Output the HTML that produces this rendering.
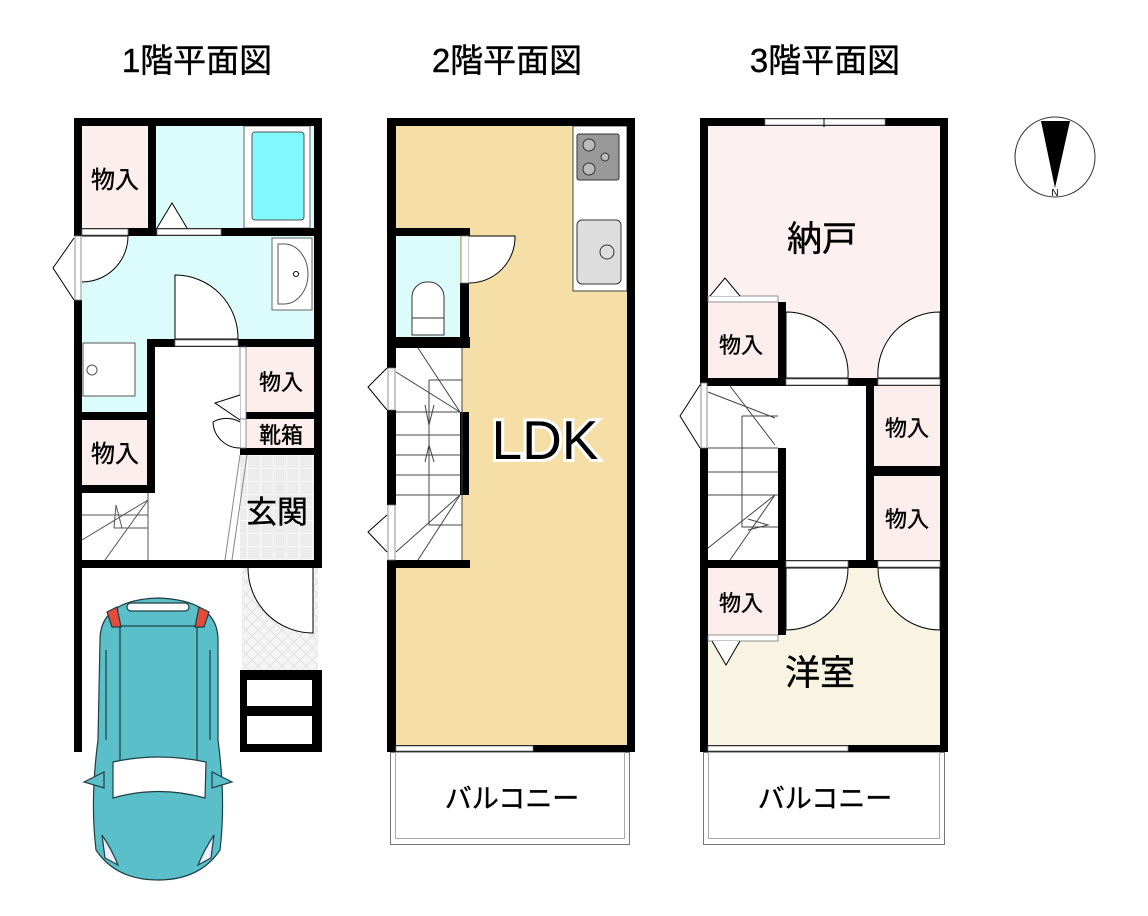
<!DOCTYPE html>
<html><head><meta charset="utf-8"><style>
html,body{margin:0;padding:0;background:#fff}
svg{display:block}
text{font-family:"Liberation Sans","Noto Sans CJK JP",sans-serif;fill:#000}
</style></head><body>
<svg width="1148" height="916" viewBox="0 0 1148 916" xmlns="http://www.w3.org/2000/svg">
<defs>
<pattern id="tile" width="13" height="13" patternUnits="userSpaceOnUse"><rect width="13" height="13" fill="#ececec"/><path d="M0 0H13M0 0V13" stroke="#fff" stroke-width="1.5"/></pattern>
<pattern id="diag" width="12" height="12" patternUnits="userSpaceOnUse"><rect width="12" height="12" fill="#f4f4f4"/><path d="M0 0L12 12M12 0L0 12" stroke="#e2e2e2" stroke-width="1"/></pattern>
</defs>
<!-- titles -->
<text x="197" y="72" font-size="33" text-anchor="middle" stroke="#000" stroke-width="0.4">1階平面図</text>
<text x="507" y="72" font-size="33" text-anchor="middle" stroke="#000" stroke-width="0.4">2階平面図</text>
<text x="825" y="72" font-size="33" text-anchor="middle" stroke="#000" stroke-width="0.4">3階平面図</text>

<!-- ===== FLOOR 1 ===== -->
<rect x="82" y="126" width="66" height="102" fill="#fdeeee"/>
<rect x="156" y="126" width="158" height="102" fill="#dcfcfc"/>
<rect x="244" y="126" width="66" height="102" fill="#fff" stroke="#666"/>
<rect x="252" y="132" width="52" height="88" rx="3" fill="#80f8fc" stroke="#555"/>
<rect x="82" y="236" width="232" height="103" fill="#dcfcfc"/>
<rect x="82" y="339" width="65" height="73" fill="#dcfcfc"/>
<rect x="272" y="238" width="40" height="72" fill="#fff" stroke="#666"/>
<path d="M278 244 H284 A24 30 0 0 1 284 304 H278 Z" fill="#fff" stroke="#555"/>
<circle cx="296" cy="274" r="2.5" fill="none" stroke="#000"/>
<rect x="83" y="343" width="52" height="53" fill="#fff" stroke="#555"/>
<circle cx="92" cy="370" r="5" fill="none" stroke="#555"/>
<rect x="82" y="420" width="66" height="65" fill="#fdeeee"/>
<rect x="246" y="347" width="68" height="65" fill="#fdeeee"/>
<rect x="246" y="419" width="68" height="29" fill="#fdeeee"/>
<rect x="240" y="455" width="74" height="105" fill="url(#tile)"/>
<rect x="242" y="568" width="76" height="102" fill="url(#diag)"/>
<g fill="#000">
<rect x="74" y="118" width="248" height="8"/>
<rect x="74" y="118" width="8" height="112"/>
<rect x="74" y="300" width="8" height="452"/>
<rect x="314" y="118" width="8" height="450"/>
<rect x="148" y="118" width="8" height="114"/>
<rect x="74" y="228" width="248" height="8"/>
<rect x="147" y="339" width="175" height="8"/>
<rect x="147" y="339" width="8" height="154"/>
<rect x="74" y="412" width="81" height="8"/>
<rect x="74" y="485" width="81" height="8"/>
<rect x="240" y="412" width="82" height="7"/>
<rect x="240" y="448" width="82" height="7"/>
<rect x="74" y="560" width="248" height="8"/>
<rect x="240" y="670" width="82" height="82"/>
</g>
<rect x="247" y="680" width="65" height="26" fill="#fff"/>
<rect x="247" y="716" width="65" height="28" fill="#fff"/>
<rect x="82" y="229" width="46" height="6" fill="#fff" stroke="#777" stroke-width="0.8"/>
<rect x="157" y="229" width="64" height="6" fill="#fff" stroke="#777" stroke-width="0.8"/>
<rect x="175" y="340" width="63" height="6" fill="#fff" stroke="#777" stroke-width="0.8"/>
<rect x="75" y="236" width="6" height="64" fill="#fff" stroke="#777" stroke-width="0.8"/>
<path d="M82 236 H128 A46 46 0 0 1 82 282" fill="#fff" stroke="#000"/>
<path d="M175 339 V275 A63 63 0 0 1 238 339 Z" fill="#fff" stroke="#000"/>
<path d="M74 238 L53 268 L74 300" fill="none" stroke="#000"/>
<path d="M157 228 L172 203 L187 228" fill="#fff" stroke="#000"/>
<rect x="240" y="347" width="6" height="72" fill="#fff" stroke="#777" stroke-width="0.8"/>
<rect x="240" y="419" width="6" height="29" fill="#fff" stroke="#777" stroke-width="0.8"/>
<path d="M240 395 L215 403 L240 420" fill="#fff" stroke="#000"/>
<path d="M240 422 A27 27 0 0 0 213 422 A27 27 0 0 0 240 448" fill="#fff" stroke="#000"/>
<path d="M240 455 L225 560 M247 455 L232 560" stroke="#888" fill="none"/>
<path d="M82 540 L148 500 M105 560 L148 500 M82 515 H148 M148 493 V560" stroke="#555" fill="none"/>
<path d="M114 528 L116 505 L122 528 M114 528 H148" stroke="#555" fill="none"/>
<path d="M248 568 A65 65 0 0 0 313 633 V568" fill="#fff" stroke="#000"/>
<text x="115" y="188" font-size="24" text-anchor="middle" stroke="#000" stroke-width="0.4">物入</text>
<text x="115" y="462" font-size="24" text-anchor="middle" stroke="#000" stroke-width="0.4">物入</text>
<text x="281" y="390" font-size="22" text-anchor="middle" stroke="#000" stroke-width="0.4">物入</text>
<text x="281" y="443" font-size="22" text-anchor="middle" stroke="#000" stroke-width="0.4">靴箱</text>
<text x="277" y="523" font-size="31" text-anchor="middle" stroke="#000" stroke-width="0.4">玄関</text>
<!-- car -->
<g stroke="#1d3e44" stroke-width="1.2">
<path d="M100 640 Q100 600 158 598 Q218 600 218 640 L218 740 Q226 800 220 850 Q200 880 158 880 Q116 880 96 850 Q90 800 98 740 Z" fill="#5bbfc9"/>
<path d="M84 782 L104 772 L104 788 Z M232 782 L212 772 L212 788 Z" fill="#5bbfc9"/>
<rect x="120" y="626" width="77" height="135" fill="#5bbfc9"/>
<path d="M113 762 Q158 752 206 762 L205 798 Q158 785 113 798 Z" fill="#fff"/>
<path d="M107 612 L117 607 L121 627 L112 627 Z M209 612 L199 607 L195 627 L204 627 Z" fill="#e54b3a"/>
<rect x="127" y="603" width="62" height="8" rx="4" fill="#fff"/>
<path d="M102 835 Q112 850 118 865 L105 858 Z M214 835 Q204 850 198 865 L211 858 Z" fill="#eef"/>
<path d="M106 650 V740 M210 650 V740" fill="none"/>
</g>

<!-- ===== FLOOR 2 ===== -->
<rect x="396" y="126" width="231" height="619" fill="#f5dfa6"/>
<rect x="396" y="236" width="64" height="101" fill="#dcfcfc"/>
<rect x="396" y="348" width="66" height="212" fill="#fff"/>
<rect x="573" y="126" width="54" height="165" fill="#fff" stroke="#444"/>
<rect x="577" y="134" width="42" height="46" rx="2" fill="#999" stroke="#333"/>
<circle cx="589" cy="145" r="6" fill="#bbb" stroke="#333"/>
<circle cx="589" cy="169" r="6" fill="#bbb" stroke="#333"/>
<circle cx="605" cy="157" r="4" fill="#bbb" stroke="#333"/>
<rect x="577" y="220" width="44" height="64" rx="5" fill="#ddd" stroke="#333"/>
<circle cx="607" cy="252" r="7" fill="#ddd" stroke="#333"/>
<rect x="412" y="282" width="32" height="52" rx="15" fill="#fff" stroke="#333"/>
<rect x="412" y="318" width="32" height="17" fill="#fff" stroke="#333"/>
<g fill="#000">
<rect x="387" y="118" width="248" height="8"/>
<rect x="387" y="118" width="9" height="250"/>
<rect x="387" y="410" width="9" height="95"/>
<rect x="387" y="560" width="9" height="192"/>
<rect x="627" y="118" width="8" height="634"/>
<rect x="387" y="745" width="248" height="7"/>
<rect x="387" y="228" width="83" height="8"/>
<rect x="460" y="283" width="9" height="65"/>
<rect x="387" y="337" width="83" height="11"/>
<rect x="460" y="412" width="9" height="83"/>
<rect x="387" y="560" width="83" height="8"/>
</g>
<rect x="461" y="236" width="8" height="47" fill="#fff" stroke="#777" stroke-width="0.8"/>
<path d="M469 236 H515 A46 46 0 0 1 469 283" fill="#fff" stroke="#000"/>
<rect x="388" y="368" width="7" height="42" fill="#fff" stroke="#777" stroke-width="0.8"/>
<rect x="388" y="505" width="7" height="55" fill="#fff" stroke="#777" stroke-width="0.8"/>
<path d="M387 368 L368 387 L387 410 M387 515 L368 532 L387 552" fill="none" stroke="#000"/>
<g stroke="#444" fill="none">
<path d="M396 372 L460 412 M418 348 L460 412 M429 380 H462 M429 380 V525 H462 M396 412 H460 M396 435 H460 M396 455 H460 M396 475 H460 M396 495 H460 M396 552 L460 495 M418 560 L460 495 M462 348 V560"/>
<path d="M425 405 L429 425 L434 405 M425 462 L429 445 L434 462"/>
</g>
<rect x="396" y="746" width="137" height="5" fill="#fff" stroke="#777" stroke-width="0.8"/>
<text x="545" y="459" font-size="55" text-anchor="middle" stroke="#fff" stroke-width="6" paint-order="stroke">LDK</text>
<rect x="390.5" y="752.5" width="239" height="92" fill="none" stroke="#777"/>
<rect x="395.5" y="752.5" width="229" height="86" fill="none" stroke="#aaa"/>
<text x="512" y="808" font-size="27" text-anchor="middle" stroke="#000" stroke-width="0.4">バルコニー</text>

<!-- ===== FLOOR 3 ===== -->
<rect x="708" y="126" width="232" height="252" fill="#fdf0f0"/>
<rect x="708" y="302" width="70" height="76" fill="#fdeeee"/>
<rect x="874" y="386" width="66" height="82" fill="#fdeeee"/>
<rect x="874" y="476" width="66" height="84" fill="#fdeeee"/>
<rect x="708" y="568" width="232" height="177" fill="#f8f3e3"/>
<rect x="708" y="568" width="70" height="67" fill="#fdeeee"/>
<g fill="#000">
<rect x="700" y="118" width="248" height="8"/>
<rect x="700" y="118" width="8" height="265"/>
<rect x="700" y="448" width="8" height="304"/>
<rect x="940" y="118" width="8" height="634"/>
<rect x="700" y="745" width="248" height="7"/>
<rect x="778" y="302" width="8" height="84"/>
<rect x="700" y="378" width="248" height="8"/>
<rect x="866" y="378" width="8" height="190"/>
<rect x="874" y="466" width="74" height="10"/>
<rect x="700" y="560" width="248" height="8"/>
<rect x="778" y="448" width="8" height="187"/>
</g>
<rect x="765" y="119" width="120" height="6" fill="#fff" stroke="#777" stroke-width="0.8"/>
<path d="M824 119 V127" stroke="#000"/>
<rect x="708" y="296" width="70" height="6" fill="#fff" stroke="#777" stroke-width="0.8"/>
<path d="M710 296 L725 278 L740 296" fill="#fff" stroke="#000"/>
<path d="M786 312 A62 62 0 0 1 848 378 H786 Z" fill="#fff" stroke="#000"/>
<path d="M940 312 A62 62 0 0 0 878 378 H940 Z" fill="#fff" stroke="#000"/>
<rect x="786" y="379" width="62" height="6" fill="#fff" stroke="#777" stroke-width="0.8"/>
<rect x="878" y="379" width="62" height="6" fill="#fff" stroke="#777" stroke-width="0.8"/>
<rect x="786" y="386" width="80" height="174" fill="#fff"/>
<rect x="708" y="386" width="70" height="174" fill="#fff"/>
<rect x="701" y="383" width="6" height="65" fill="#fff" stroke="#777" stroke-width="0.8"/>
<path d="M700 385 L680 416 L700 448" fill="none" stroke="#000"/>
<g stroke="#444" fill="none">
<path d="M708 392 L775 418 M730 386 L775 445 M742 416 H778 M742 416 V527 H778 M708 448 H778 M708 472 H778 M708 495 H778 M708 548 L775 495 M730 560 L775 495"/>
<path d="M748 519 L768 525 L748 530"/>
</g>
<path d="M786 568 V630 A62 62 0 0 0 848 568 Z" fill="#fff" stroke="#000"/>
<path d="M940 568 V630 A62 62 0 0 1 878 568 Z" fill="#fff" stroke="#000"/>
<rect x="786" y="561" width="62" height="6" fill="#fff" stroke="#777" stroke-width="0.8"/>
<rect x="878" y="561" width="62" height="6" fill="#fff" stroke="#777" stroke-width="0.8"/>
<rect x="708" y="635" width="70" height="6" fill="#fff" stroke="#777" stroke-width="0.8"/>
<path d="M712 641 L726 665 L740 641" fill="#fff" stroke="#000"/>
<rect x="708" y="746" width="140" height="5" fill="#fff" stroke="#777" stroke-width="0.8"/>
<text x="822" y="251" font-size="35" text-anchor="middle" stroke="#000" stroke-width="0.4">納戸</text>
<text x="820" y="685" font-size="35" text-anchor="middle" stroke="#000" stroke-width="0.4">洋室</text>
<text x="741" y="353" font-size="22" text-anchor="middle" stroke="#000" stroke-width="0.4">物入</text>
<text x="907" y="436" font-size="22" text-anchor="middle" stroke="#000" stroke-width="0.4">物入</text>
<text x="907" y="527" font-size="22" text-anchor="middle" stroke="#000" stroke-width="0.4">物入</text>
<text x="741" y="611" font-size="22" text-anchor="middle" stroke="#000" stroke-width="0.4">物入</text>
<rect x="703.5" y="752.5" width="241" height="92" fill="none" stroke="#777"/>
<rect x="708.5" y="752.5" width="231" height="86" fill="none" stroke="#aaa"/>
<text x="825" y="808" font-size="27" text-anchor="middle" stroke="#000" stroke-width="0.4">バルコニー</text>

<!-- compass -->
<circle cx="1055" cy="157" r="40" fill="#fff" stroke="#333"/>
<path d="M1041 121 L1055 188 L1070 121 Z" fill="#000"/>
<text x="1055" y="196" font-size="10" text-anchor="middle">N</text>
</svg>
</body></html>
